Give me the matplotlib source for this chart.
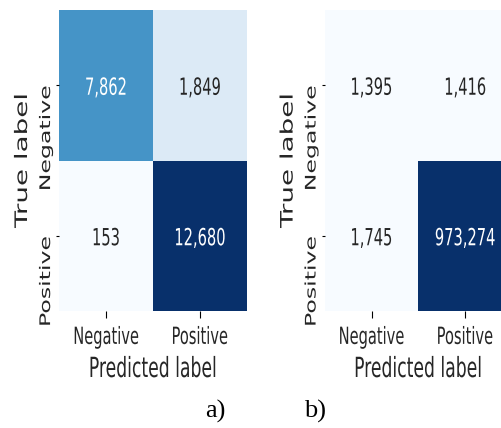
import numpy as np
import matplotlib
matplotlib.use('Agg')
import matplotlib.pyplot as plt
from matplotlib.patheffects import AbstractPathEffect
from matplotlib.transforms import Affine2D

#------ DATA

classes = ['Negative', 'Positive']
cm_a = [[7862, 1849],
        [153, 12680]]
cm_b = [[1395, 1416],
        [1745, 973274]]
panel_tags = ['a)', 'b)']

#------ SETTINGS

W, H = 502, 428
SQUEEZE = 0.62          # horizontal narrowing of the glyphs
dark_text = '#262626'


class Squeeze(AbstractPathEffect):
    """Narrow the glyph paths horizontally, about their centre or the text origin."""

    def __init__(self, sx, about='center'):
        super().__init__()
        self.sx = sx
        self.about = about

    def draw_path(self, renderer, gc, tpath, affine, rgbFace=None):
        if self.about == 'origin':
            cx = affine.transform([[0, 0]])[0][0]
        else:
            pts = affine.transform(tpath.vertices)
            cx = 0.5 * (pts[:, 0].min() + pts[:, 0].max()) if len(pts) else 0.0
        narrow = Affine2D().translate(-cx, 0).scale(self.sx, 1).translate(cx, 0)
        renderer.draw_path(gc, tpath, affine + narrow, rgbFace)


def luminance(rgb):
    c = np.where(rgb <= .03928, rgb / 12.92, ((rgb + .055) / 1.055) ** 2.4)
    return c.dot([.2126, .7152, .0722])


fig = plt.figure(figsize=(W / 100, H / 100), dpi=100)


def px_axes(x0, y0, x1, y1):
    return fig.add_axes([x0 / W, 1 - y1 / H, (x1 - x0) / W, (y1 - y0) / H])


def draw_cm(ax, cm):
    cm = np.asarray(cm)
    cmap = plt.get_cmap('Blues')
    norm = plt.Normalize(cm.min(), cm.max())
    ax.pcolormesh(cm, cmap=cmap, norm=norm)
    ax.set_xlim(0, 2)
    ax.set_ylim(2, 0)

    for i in range(2):
        for j in range(2):
            v = cm[i, j]
            col = 'white' if luminance(np.array(cmap(norm(v))[:3])) < .408 else dark_text
            ax.text(j + 0.5, i + 0.5, f'{v:,}', ha='center', va='center_baseline',
                    fontsize=17, color=col, path_effects=[Squeeze(SQUEEZE)])

    for s in ax.spines.values():
        s.set_visible(False)

    ax.set_xticks([0.5, 1.5], classes)
    ax.set_yticks([0.5, 1.5], classes)
    ax.tick_params(axis='x', length=5, width=0.8, pad=5, labelsize=17, labelcolor=dark_text)
    ax.tick_params(axis='y', length=2.5, width=0.8, pad=4.3, labelsize=17, labelcolor=dark_text)
    for t in ax.get_xticklabels():
        t.set_path_effects([Squeeze(SQUEEZE)])
    for t in ax.get_yticklabels():
        t.set(rotation=90, rotation_mode='anchor', ha='right', va='baseline',
              path_effects=[Squeeze(SQUEEZE, 'origin')])

    ax.set_xlabel('Predicted label', fontsize=20, va='baseline', color=dark_text,
                  path_effects=[Squeeze(SQUEEZE)])
    ax.xaxis.set_label_coords(0.5, -66 / 301)
    ax.set_ylabel('True label', fontsize=20, va='baseline', color=dark_text,
                  path_effects=[Squeeze(SQUEEZE, 'origin')])
    ax.yaxis.set_label_coords(-32.5 / 187.5, 0.5)


ax1 = px_axes(59.5, 10, 247, 311)
draw_cm(ax1, cm_a)

ax2 = px_axes(325, 10, 512, 311)
draw_cm(ax2, cm_b)

for tag, x in zip(panel_tags, [215, 315.5]):
    fig.text(x / W, 1 - 418 / H, tag, ha='center', va='baseline', fontsize=19,
             family='Liberation Serif')

fig.savefig('out.png', dpi=100)
